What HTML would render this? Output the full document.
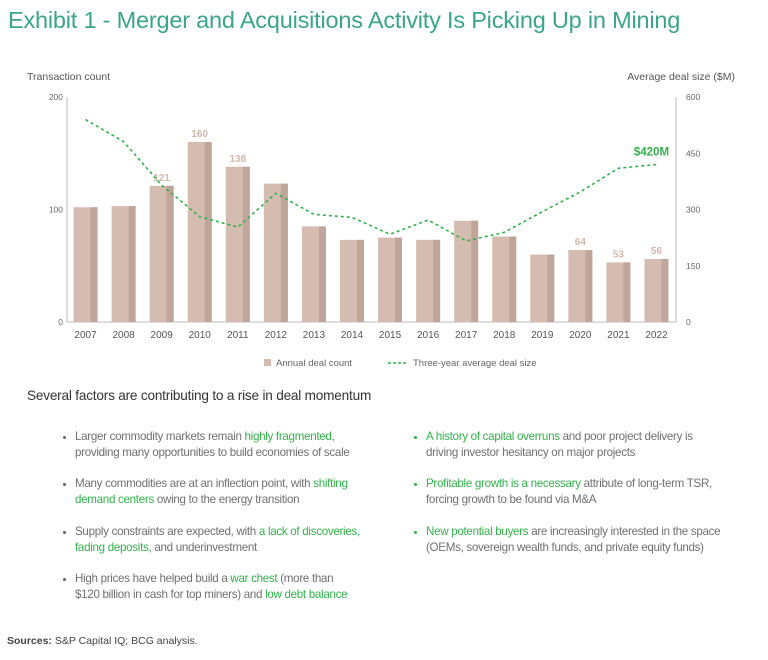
<!DOCTYPE html>
<html><head><meta charset="utf-8"><style>
body{margin:0;width:768px;height:660px;background:#fff;position:relative;font-family:"Liberation Sans",sans-serif;overflow:hidden}
.a{position:absolute;white-space:nowrap}
.t{font-size:11.6px;color:#707070;letter-spacing:-0.3px;line-height:16px}
.g{color:#32b24a}
.dot{position:absolute;width:3px;height:3px;border-radius:50%;background:#666}
.dg{background:#32b24a}
</style></head><body>
<div class="a" style="left:8px;top:7px;font-size:23.5px;color:#3aa58a;letter-spacing:-0.2px">Exhibit 1 - Merger and Acquisitions Activity Is Picking Up in Mining</div>
<svg id="chart" width="768" height="380" style="position:absolute;left:0;top:0" font-family="Liberation Sans, sans-serif"></svg>
<div class="a" style="left:27px;top:388px;font-size:13.6px;color:#333;letter-spacing:-0.2px">Several factors are contributing to a rise in deal momentum</div>

<div class="dot" style="left:63px;top:436px"></div>
<div class="a t" style="left:75px;top:429px">Larger commodity markets remain <span class="g">highly fragmented</span>,<br>providing many opportunities to build economies of scale</div>
<div class="dot" style="left:63px;top:483px"></div>
<div class="a t" style="left:75px;top:476px">Many commodities are at an inflection point, with <span class="g">shifting</span><br><span class="g">demand centers</span> owing to the energy transition</div>
<div class="dot" style="left:63px;top:531px"></div>
<div class="a t" style="left:75px;top:524px">Supply constraints are expected, with <span class="g">a lack of discoveries,</span><br><span class="g">fading deposits,</span> and underinvestment</div>
<div class="dot" style="left:63px;top:578px"></div>
<div class="a t" style="left:75px;top:571px">High prices have helped build a <span class="g">war chest</span> (more than<br>$120 billion in cash for top miners) and <span class="g">low debt balance</span></div>

<div class="dot dg" style="left:414px;top:436px"></div>
<div class="a t" style="left:426px;top:429px"><span class="g">A history of capital overruns</span> and poor project delivery is<br>driving investor hesitancy on major projects</div>
<div class="dot dg" style="left:414px;top:483px"></div>
<div class="a t" style="left:426px;top:476px"><span class="g">Profitable growth is a necessary</span> attribute of long-term TSR,<br>forcing growth to be found via M&amp;A</div>
<div class="dot dg" style="left:414px;top:531px"></div>
<div class="a t" style="left:426px;top:524px"><span class="g">New potential buyers</span> are increasingly interested in the space<br>(OEMs, sovereign wealth funds, and private equity funds)</div>

<div class="a" style="left:7px;top:635px;font-size:10.5px;color:#444"><b>Sources:</b> S&amp;P Capital IQ; BCG analysis.</div>

<script>
const years=[2007,2008,2009,2010,2011,2012,2013,2014,2015,2016,2017,2018,2019,2020,2021,2022];
const dealCounts=[102,103,121,160,138,123,85,73,75,73,90,76,60,64,53,56];
const avgDealSize=[540,481,365,281,253,343,287,279,234,272,216,239,294,347,410,420];
const barLabels={2009:"121",2010:"160",2011:"138",2020:"64",2021:"53",2022:"56"};
const leftTicks=[0,100,200];
const rightTicks=[0,150,300,450,600];

const svg=document.getElementById('chart');
const NS='http://www.w3.org/2000/svg';
const x0=67,x1=676,yB=322,yT=97;
const step=(x1-x0)/years.length;
const xc=i=>x0+step*(i+0.5)-0.5;
const yL=v=>yB-(v/200)*(yB-yT);
const yR=v=>yB-(v/600)*(yB-yT);
function mk(tag,attrs,text){const e=document.createElementNS(NS,tag);for(const k in attrs)e.setAttribute(k,attrs[k]);if(text!==undefined)e.textContent=text;svg.appendChild(e);return e;}

let e=mk('text',{x:27,y:80,'font-size':10.5,fill:'#555'},'Transaction count');


e=mk('text',{x:735,y:80,'font-size':10.5,fill:'#555','text-anchor':'end'},'Average deal size ($M)');



e=mk('line',{x1:x0,y1:yT,x2:x0,y2:yB,stroke:'#bbb','stroke-width':1});


e=mk('line',{x1:x1,y1:yT,x2:x1,y2:yB,stroke:'#bbb','stroke-width':1});


e=mk('line',{x1:x0,y1:yB,x2:x1,y2:yB,stroke:'#bbb','stroke-width':1});



leftTicks.forEach(v=>{const t=mk('text',{x:63,y:yL(v)+3,'font-size':8.5,fill:'#666','text-anchor':'end'},v);

});
rightTicks.forEach(v=>{const t=mk('text',{x:686,y:yR(v)+3,'font-size':8.5,fill:'#666'},v);

});

years.forEach((yr,i)=>{
  const c=xc(i),w=24,top=yL(dealCounts[i]);
  const b=mk('rect',{x:c-w/2,y:top,width:w,height:yB-top,fill:'#d5bcb0'});
  
  
  const s=mk('rect',{x:c+w/2-7,y:top,width:7,height:yB-top,fill:'#bfa59a'});
  
  
  const l=mk('text',{x:c,y:338,'font-size':10,fill:'#555','text-anchor':'middle'},yr);
  
  
  if(barLabels[yr]){const v=mk('text',{x:c,y:top-5,'font-size':10,'font-weight':'bold',fill:'#d2b8ac','text-anchor':'middle'},barLabels[yr]);
  
  }
});

const pts=avgDealSize.map((v,i)=>xc(i)+','+yR(v)).join(' ');
e=mk('polyline',{points:pts,fill:'none',stroke:'#32b24a','stroke-width':1.6,'stroke-dasharray':'3,3'});


const li=avgDealSize.length-1;
e=mk('text',{x:xc(li)-5,y:yR(avgDealSize[li])-9,'font-size':11.5,'font-weight':'bold',fill:'#32b24a','text-anchor':'middle'},'$'+avgDealSize[li]+'M');



e=mk('rect',{x:264,y:359,width:7,height:7,fill:'#d5bcb0'});


e=mk('text',{x:276,y:366,'font-size':9.5,fill:'#666'},'Annual deal count');


e=mk('line',{x1:388,y1:363,x2:408,y2:363,stroke:'#32b24a','stroke-width':1.6,'stroke-dasharray':'3,2'});


e=mk('text',{x:413,y:366,'font-size':9.5,fill:'#666'},'Three-year average deal size');


</script>
</body></html>
